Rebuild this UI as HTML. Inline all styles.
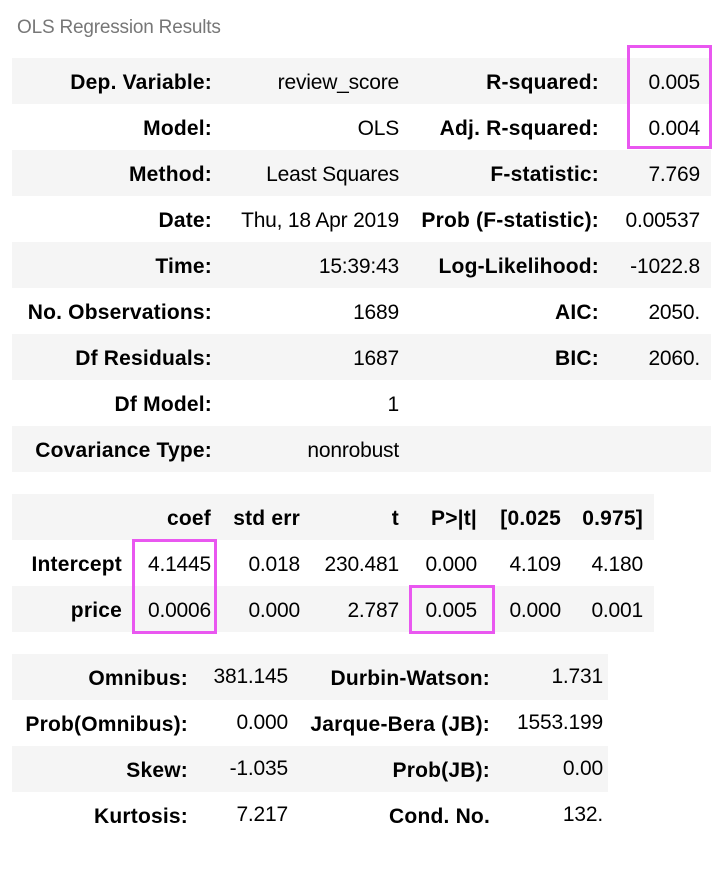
<!DOCTYPE html>
<html><head><meta charset="utf-8"><style>
body{margin:0;width:726px;height:878px;background:#fff;font-family:"Liberation Sans",Arial,sans-serif;color:#000;position:relative;overflow:hidden}
.t{position:absolute;font-size:21px;white-space:nowrap;line-height:46px;letter-spacing:-0.2px}
.b{font-weight:bold;letter-spacing:0.2px}
.r{text-align:right}
.bg{position:absolute;background:#f5f5f5}
.box{position:absolute;border:3px solid #e957f0;box-sizing:border-box}
</style></head><body>
<div class="t" style="left:17px;top:5px;line-height:46px;font-size:19px;color:#777;letter-spacing:-0.2px">OLS Regression Results</div>
<div id="root"></div>
<div class="box" style="left:627px;top:45px;width:85px;height:104px"></div>
<div class="box" style="left:132px;top:539px;width:85px;height:95px"></div>
<div class="box" style="left:409px;top:585px;width:86px;height:49px"></div>
<script>
const root=document.getElementById('root');
function bg(x,y,w,name){const d=document.createElement('div');d.className='bg';d.style.cssText=`left:${x}px;top:${y}px;width:${w}px;height:46px`;


root.appendChild(d);}
function txt(s,right,y,bold,name){const d=document.createElement('div');d.className='t r'+(bold?' b':'');d.textContent=s;d.style.right=(726-right)+'px';d.style.top=(y+2)+'px';


root.appendChild(d);}
const t1=[["Dep. Variable:","review_score","R-squared:","0.005"],["Model:","OLS","Adj. R-squared:","0.004"],["Method:","Least Squares","F-statistic:","7.769"],["Date:","Thu, 18 Apr 2019","Prob (F-statistic):","0.00537"],["Time:","15:39:43","Log-Likelihood:","-1022.8"],["No. Observations:","1689","AIC:","2050."],["Df Residuals:","1687","BIC:","2060."],["Df Model:","1","",""],["Covariance Type:","nonrobust","",""]];
t1.forEach((r,i)=>{const y=58+i*46;if(i%2==0)bg(12,y,699,'summary-row-bg');
txt(r[0],212,y,1,'summary-label');txt(r[1],399,y,0,'summary-value');txt(r[2],599,y,1,'summary-label');txt(r[3],700,y,0,'summary-value');});
const cols=[211,300,399,477,561,643];
const t2=[["","coef","std err","t","P>|t|","[0.025","0.975]"],["Intercept","4.1445","0.018","230.481","0.000","4.109","4.180"],["price","0.0006","0.000","2.787","0.005","0.000","0.001"]];
t2.forEach((r,i)=>{const y=494+i*46;if(i%2==0)bg(12,y,642,'coef-row-bg');
txt(r[0],122,y,1,'coef-row-label');r.slice(1).forEach((c,j)=>txt(c,cols[j],y,i==0,'coef-cell'));});
const t3=[["Omnibus:","381.145","Durbin-Watson:","1.731"],["Prob(Omnibus):","0.000","Jarque-Bera (JB):","1553.199"],["Skew:","-1.035","Prob(JB):","0.00"],["Kurtosis:","7.217","Cond. No.","132."]];
t3.forEach((r,i)=>{const y=654+i*46;if(i%2==0)bg(12,y,596,'diag-row-bg');
txt(r[0],188,y,1,'diag-label');txt(r[1],288,y-2,0,'diag-value');txt(r[2],490,y,1,'diag-label');txt(r[3],603,y-2,0,'diag-value');});
</script>
</body></html>
